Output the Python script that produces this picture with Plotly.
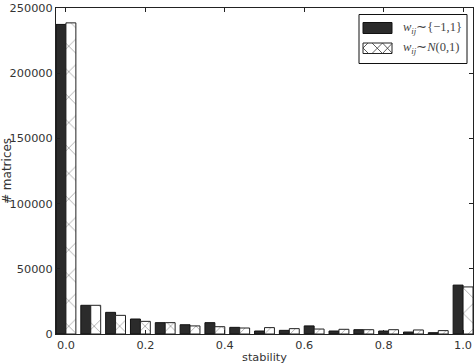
import plotly.graph_objects as go

# bin centres (stability = k/16)
stability = [k / 16 for k in range(17)]
# counts for w_ij ~ {-1,1}
counts_discrete = [237400, 22000, 16600, 11500, 8700, 7100, 8700, 5100,
                   2300, 2800, 6200, 2300, 3300, 2300, 1500, 1000, 37500]
# counts for w_ij ~ N(0,1)
counts_normal = [238600, 22000, 14300, 9700, 8700, 6200, 5600, 4600,
                 4900, 4100, 3800, 3600, 3300, 3300, 3100, 2600, 36100]

x_ticks = [0.0, 0.2, 0.4, 0.6, 0.8, 1.0]
x_ticklabels = ["0.0", "0.2", "0.4", "0.6", "0.8", "1.0"]
y_ticks = [0, 50000, 100000, 150000, 200000, 250000]
y_ticklabels = ["0", "50000", "100000", "150000", "200000", "250000"]

label_discrete = "<i>w</i><sub><i>ij</i></sub>∼{−1,1}"
label_normal = "<i>w</i><sub><i>ij</i></sub>∼<i>N</i>(0,1)"

DARK = "#2b2b2b"
TEXT = "#333333"
BAR_W = 0.025

fig = go.Figure()
fig.add_trace(go.Bar(
    x=stability, y=counts_discrete, width=BAR_W, offset=-BAR_W,
    marker=dict(color=DARK, line=dict(color="#111111", width=1)),
    showlegend=False, name="discrete"))
fig.add_trace(go.Bar(
    x=stability, y=counts_normal, width=BAR_W, offset=0,
    marker=dict(color="white", line=dict(color="#222222", width=1),
                pattern=dict(shape="x", fgcolor="#333333", bgcolor="white",
                             size=18, solidity=0.08)),
    showlegend=False, name="normal"))

L, R, T, B = 56, 3, 8, 30
W, H = 476, 364
pw, ph = W - L - R, H - T - B


def px(xp):
    return (xp - L) / pw


def py(yp):
    return (H - B - yp) / ph


shapes = []
# legend box
shapes.append(dict(type="rect", xref="paper", yref="paper",
                   x0=px(359), x1=px(467), y0=py(63.5), y1=py(14.5),
                   line=dict(color="#111111", width=1), fillcolor="white"))
# dark patch
shapes.append(dict(type="rect", xref="paper", yref="paper",
                   x0=px(363), x1=px(392), y0=py(33.5), y1=py(22.5),
                   line=dict(color="#111111", width=1), fillcolor=DARK))
# hatched patch
shapes.append(dict(type="rect", xref="paper", yref="paper",
                   x0=px(363), x1=px(392), y0=py(53.5), y1=py(43),
                   line=dict(color="#222222", width=1), fillcolor="white"))
for (a, b, c, d) in [(363, 48, 368, 43), (363, 48, 368.5, 53.5),
                     (372, 43, 382.5, 53.5), (382.5, 53.5, 392, 43.5),
                     (372, 53.5, 382.5, 43), (382.5, 43, 392, 53)]:
    shapes.append(dict(type="line", xref="paper", yref="paper",
                       x0=px(a), y0=py(b), x1=px(c), y1=py(d),
                       line=dict(color="#333333", width=0.8)))

annotations = [
    dict(text=label_discrete, xref="paper", yref="paper", x=px(401), y=py(28),
         xanchor="left", yanchor="middle", showarrow=False,
         font=dict(family="Liberation Serif", size=12.5, color="#444444")),
    dict(text=label_normal, xref="paper", yref="paper", x=px(401), y=py(48),
         xanchor="left", yanchor="middle", showarrow=False,
         font=dict(family="Liberation Serif", size=12.5, color="#444444")),
    dict(text="# matrices", xref="paper", yref="paper", x=px(7), y=0.5,
         xanchor="center", yanchor="middle", textangle=-90, showarrow=False,
         font=dict(family="DejaVu Sans", size=12, color=TEXT)),
]

axis_common = dict(showline=True, linecolor="#222222", linewidth=1,
                   mirror="ticks", ticks="inside", ticklen=4,
                   tickcolor="#222222", showgrid=False, zeroline=False,
                   tickfont=dict(family="DejaVu Sans", size=11.3, color=TEXT))

fig.update_layout(
    width=W, height=H,
    margin=dict(l=L, r=R, t=T, b=B, autoexpand=False),
    paper_bgcolor="white", plot_bgcolor="white",
    barmode="overlay",
    xaxis=dict(range=[-0.025, 1.025], tickvals=x_ticks, ticktext=x_ticklabels,
               title=dict(text="stability", standoff=2,
                          font=dict(family="DejaVu Sans", size=11.3, color=TEXT)),
               **axis_common),
    yaxis=dict(range=[0, 250000], tickvals=y_ticks, ticktext=y_ticklabels,
               **axis_common),
    shapes=shapes, annotations=annotations,
)

fig.write_html("out.html")
